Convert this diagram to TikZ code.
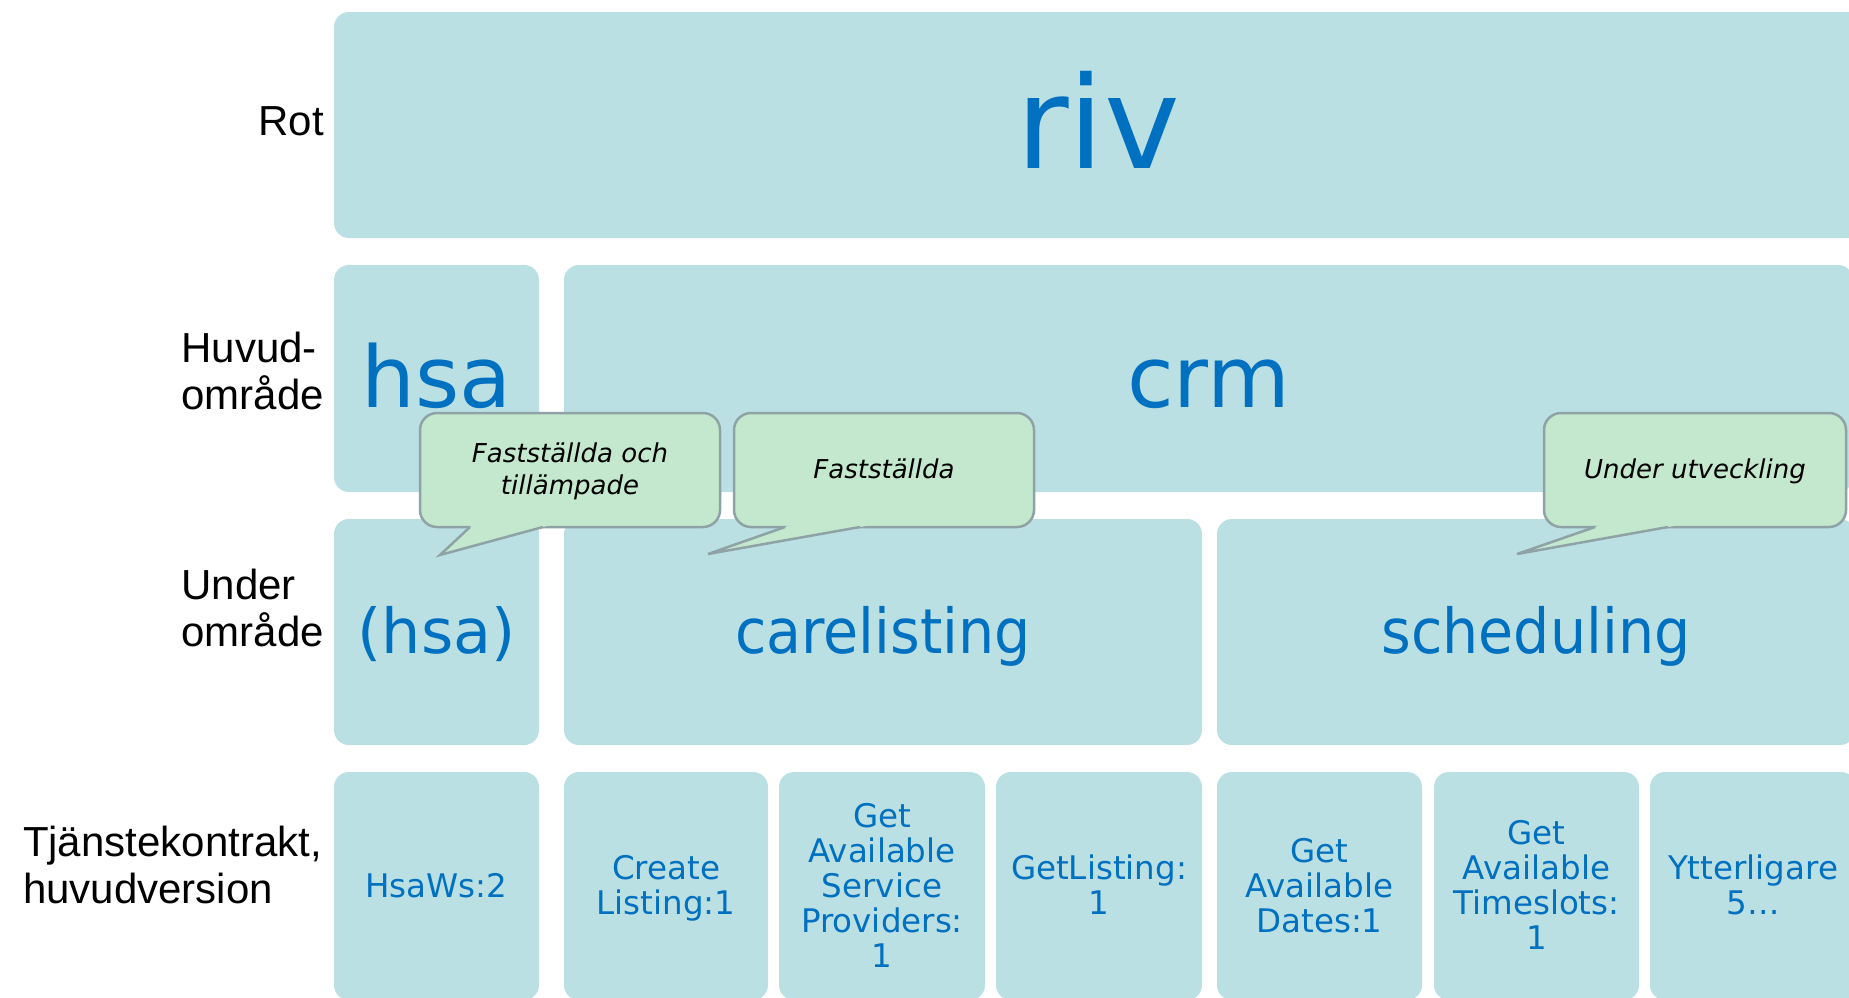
\documentclass[tikz,border=0pt]{standalone}
\usepackage{fontspec}
\usepackage{graphicx}
\setmainfont{Liberation Sans}
\newfontfamily\boxfont{DejaVu Sans}
\usetikzlibrary{calc}
\definecolor{boxfill}{HTML}{BBE0E3}
\definecolor{calfill}{HTML}{C3E8CE}
\definecolor{calline}{HTML}{8FA3A6}
\definecolor{txtblue}{HTML}{0070C0}
\newcommand\bstrut{\vrule height 30pt depth 10pt width 0pt\relax}
\newcommand\cstrut{\vrule height 24pt depth 8pt width 0pt\relax}
\newcommand\lstrut{\vrule height 32pt depth 10pt width 0pt\relax}
\newcommand\noskiplim{\lineskiplimit=-1000pt\relax}
\begin{document}
\begin{tikzpicture}[x=1pt,y=-1pt,
  box/.style={fill=boxfill, rounded corners=15pt, inner sep=0pt, outer sep=0pt, anchor=north west},
  bigtxt/.style={text=txtblue, inner sep=0pt, anchor=base},
  smalltxt/.style={text=txtblue, inner sep=0pt, align=center, font={\boxfont\fontsize{32.5}{35}\selectfont\noskiplim}},
  lab/.style={inner sep=0pt, align=left, font={\fontsize{42}{47}\selectfont\noskiplim}},
  callout/.style={fill=calfill, draw=calline, line width=2.5pt, rounded corners=17pt, minimum width=300pt, minimum height=114pt, inner sep=0pt, outer sep=0pt, align=center, font={\boxfont\itshape\fontsize{26}{32}\selectfont\noskiplim}, anchor=north west},
  tailfill/.style={fill=calfill},
  tailline/.style={draw=calline, line width=2.5pt}]
\useasboundingbox (0,0) rectangle (1849,997);
\fill[white] (0,0) rectangle (1849,997);
\clip (0,0) rectangle (1849,997);

% row labels
\node[lab, anchor=base east] (lrot) at (324,135) {Rot};
\node[lab, anchor=east] (lhuv) at (324,375) {\lstrut Huvud-\\område\lstrut};
\node[lab, anchor=east] (lund) at (324,611.5) {\lstrut Under\\område\lstrut};
\node[lab, anchor=east] (ltj) at (322,869) {\lstrut Tjänstekontrakt,\\huvudversion\lstrut};

% row 1
\node[box, minimum width=1528pt, minimum height=226pt] (riv) at (334,12) {};
\node[bigtxt, font=\boxfont\fontsize{128}{150}\selectfont] (rivt) at (1098,168) {riv};

% row 2
\node[box, minimum width=205pt, minimum height=227pt] (hsa) at (334,265) {};
\node[box, minimum width=1289pt, minimum height=227pt] (crm) at (564,265) {};
\node[bigtxt, font=\boxfont\fontsize{85}{100}\selectfont] (hsat) at (436.5,407) {hsa};
\node[bigtxt, font=\boxfont\fontsize{85}{100}\selectfont] (crmt) at (1208.5,407) {crm};

% row 3
\node[box, minimum width=205pt, minimum height=226pt] (hsa2) at (334,519) {};
\node[box, minimum width=638pt, minimum height=226pt] (care) at (564,519) {};
\node[box, minimum width=638pt, minimum height=226pt] (sched) at (1217,519) {};
\node[bigtxt, font=\boxfont\fontsize{62}{70}\selectfont] (hsa2t) at (436.5,653) {(hsa)};
\node[bigtxt, font=\boxfont\fontsize{62}{70}\selectfont] (caret) at (883,653) {\scalebox{0.92}[1]{carelisting}};
\node[bigtxt, font=\boxfont\fontsize{62}{70}\selectfont] (schedt) at (1536,653) {\scalebox{0.92}[1]{scheduling}};

% row 4
\node[box, minimum width=205pt, minimum height=228pt] (c1) at (334,772) {};
\node[box, minimum width=204pt, minimum height=228pt] (c2) at (564,772) {};
\node[box, minimum width=206pt, minimum height=228pt] (c3) at (779,772) {};
\node[box, minimum width=206pt, minimum height=228pt] (c4) at (996,772) {};
\node[box, minimum width=205pt, minimum height=228pt] (c5) at (1217,772) {};
\node[box, minimum width=205pt, minimum height=228pt] (c6) at (1434,772) {};
\node[box, minimum width=206pt, minimum height=228pt] (c7) at (1650,772) {};
\node[smalltxt] (c1t) at (436.5,887) {\bstrut HsaWs:2};
\node[smalltxt] (c2t) at (666,887) {\bstrut Create\\Listing:1\bstrut};
\node[smalltxt] (c3t) at (882,887) {\bstrut Get\\Available\\Service\\Providers:\\1\bstrut};
\node[smalltxt] (c4t) at (1099,887) {\bstrut GetListing:\\1\bstrut};
\node[smalltxt] (c5t) at (1319.5,887) {\bstrut Get\\Available\\Dates:1\bstrut};
\node[smalltxt] (c6t) at (1536.5,887) {\bstrut Get\\Available\\Timeslots:\\1\bstrut};
\node[smalltxt] (c7t) at (1753,887) {\bstrut Ytterligare\\5\ldots\bstrut};

% callouts
\node[callout] (k1) at (420,413) {\cstrut Fastställda och\\tillämpade\cstrut};
\coordinate (k1a) at (470,527);
\coordinate (k1b) at (543,527);
\coordinate (k1c) at (440,555);
\fill[tailfill] ($(k1a)!-0.2!(k1c)$) -- (k1c) -- ($(k1b)!-0.2!(k1c)$) -- cycle;
\draw[tailline] (k1a) -- (k1c) -- (k1b);

\node[callout] (k2) at (734,413) {\cstrut Fastställda\cstrut};
\coordinate (k2a) at (785,527);
\coordinate (k2b) at (860,527);
\coordinate (k2c) at (708,554);
\fill[tailfill] ($(k2a)!-0.2!(k2c)$) -- (k2c) -- ($(k2b)!-0.2!(k2c)$) -- cycle;
\draw[tailline] (k2a) -- (k2c) -- (k2b);

\node[callout, minimum width=302pt] (k3) at (1544,413) {\cstrut Under utveckling\cstrut};
\coordinate (k3a) at (1595,527);
\coordinate (k3b) at (1668,527);
\coordinate (k3c) at (1517,554);
\fill[tailfill] ($(k3a)!-0.2!(k3c)$) -- (k3c) -- ($(k3b)!-0.2!(k3c)$) -- cycle;
\draw[tailline] (k3a) -- (k3c) -- (k3b);
\end{tikzpicture}
\end{document}
